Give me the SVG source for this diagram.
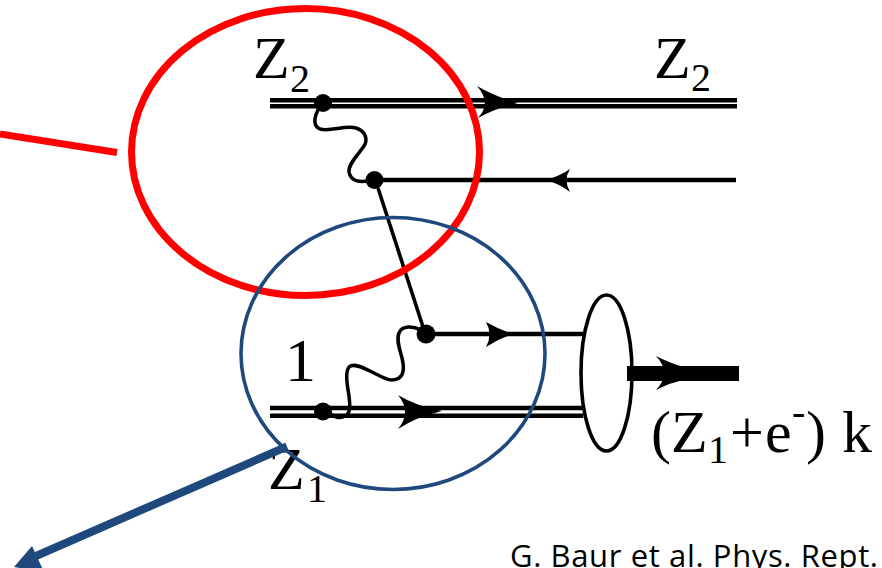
<svg xmlns="http://www.w3.org/2000/svg" width="882" height="568" viewBox="0 0 882 568">
<style>
.l{fill:none;stroke:#000;stroke-width:4.6}
.t{fill:none;stroke:#000;stroke-width:4.4}
.w{fill:none;stroke:#000;stroke-width:3.5;stroke-linecap:round}
.a{fill:#000;stroke:none}
.d{fill:#000}
.s{font-family:"Liberation Serif",serif;fill:#000;font-size:60px}
.b{font-family:"Liberation Serif",serif;fill:#000;font-size:40px}
</style>
<rect width="882" height="568" fill="#fff"/>
<g id="connectors">
<path class="l" d="M270 100.3H737M270 106.3H737"/>
<path class="a" d="M477 86Q496 97 518 103Q496 108 478 118Q492 103 477 86Z"/>
<path class="t" d="M374 180H736"/>
<path class="a" d="M546 180Q560 176 570 169Q563 180 570 192Q560 184 546 180Z"/>
<path d="M378 188L425 333" fill="none" stroke="#000" stroke-width="3.6"/>
<path class="t" d="M426 334H583"/>
<path class="a" d="M513 334Q498 329 486 322Q493 334 486 347Q498 339 513 334Z"/>
<path class="l" d="M270 408H583M270 415.8H583"/>
<path class="a" d="M398 395Q416 406 442 411Q416 417 398 429Q412 412 398 395Z"/>
<path d="M627 373.5H739" fill="none" stroke="#000" stroke-width="15"/>
<path class="a" d="M656 356Q672 364 684 367V380Q672 382 656 390Q672 373 656 356Z"/>
<path class="w" d="M318 110C314 118 313 126 320 129C330 132 345 125 356 128C366 131 368 140 364 146C358 155 348 164 349 172C351 182 360 182 368 181"/>
<path class="w" d="M421 330C413 326 402 325 399 333C396 340 400 350 402 358C404 366 405 374 399 378C391 383 382 377 374 373C366 369 354 362 349 367C345 372 347 384 349 396C350 405 351 413 345 416C340 419 334 417 331 414"/>
</g>
<g id="node-top-left"><circle class="d" cx="323" cy="103" r="9"/></g>
<g id="node-top-mid"><circle class="d" cx="374.500" cy="180" r="9"/></g>
<g id="node-bottom-mid"><circle class="d" cx="426" cy="334" r="9.500"/></g>
<g id="node-bottom-left"><circle class="d" cx="323" cy="411.500" r="9"/></g>
<g id="blob"><ellipse cx="606.500" cy="373" rx="25.500" ry="78" fill="none" stroke="#000" stroke-width="3.600"/></g>
<g id="labels">
<text class="s" x="253" y="78">Z</text><text class="b" x="290" y="92">2</text>
<text class="s" x="654" y="78">Z</text><text class="b" x="691" y="91">2</text>
<text class="s" x="285" y="381" style="font-size:62px">1</text>
<text class="s" x="268" y="489">Z</text><text class="b" x="307" y="502">1</text>
<text class="s" x="651" y="452">(</text><text class="s" x="671" y="452">Z</text><text class="b" x="708" y="463">1</text><text class="s" x="730" y="452">+</text><text class="s" x="765" y="452">e</text><text class="b" x="792" y="425">-</text><text class="s" x="806" y="452">)</text><text class="s" x="842" y="452">k</text>
<text x="510" y="567" font-family="Open Sans,sans-serif" font-size="31" textLength="368" lengthAdjust="spacing" fill="#000">G. Baur et al. Phys. Rept.</text>
</g>
<g id="highlights">
<ellipse id="red-ellipse" cx="305.500" cy="152" rx="174" ry="143.500" fill="none" stroke="#ff0000" stroke-width="7"/>
<path d="M0 134L117 152.500" fill="none" stroke="#ff0000" stroke-width="7"/>
<ellipse id="blue-ellipse" cx="393" cy="353.500" rx="152" ry="136" fill="none" stroke="#1f497d" stroke-width="3.600"/>
<path d="M287 446.500L36 556" fill="none" stroke="#1f497d" stroke-width="8"/>
<path d="M14 567L32 546L44 572Z" fill="#1f497d"/>
</g>
</svg>
